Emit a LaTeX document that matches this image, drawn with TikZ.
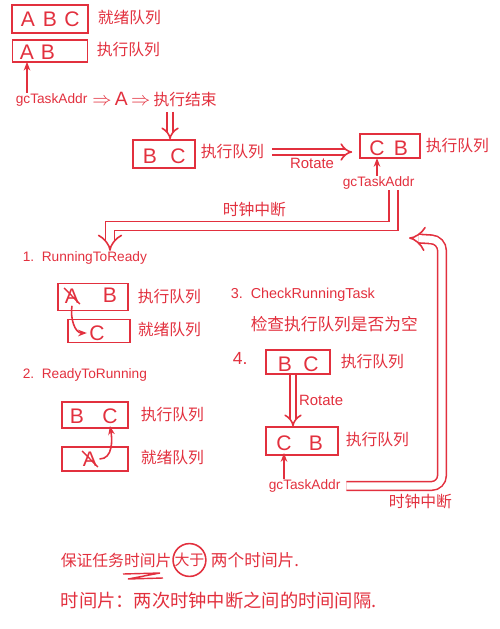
\documentclass[tikz,border=0pt]{standalone}
\usepackage{fontspec}
\setmainfont{Liberation Sans}
\newfontfamily\cjk{Noto Sans CJK SC}
\usetikzlibrary{arrows.meta, positioning}
\definecolor{penred}{RGB}{226,48,62}

\begin{document}
\begin{tikzpicture}[
    x=0.02cm, y=-0.02cm,
    color=penred, line width=0.9pt,
    queue/.style={draw, rectangle, inner sep=0pt},
    letter/.style={inner sep=1pt, font=\fontsize{12}{12}\selectfont},
    qlabel/.style={anchor=west, inner sep=0pt, font=\cjk\fontsize{9}{10}\selectfont},
    note/.style={anchor=west, inner sep=0pt, font=\fontsize{7.8}{10}\selectfont},
    dbl/.style={double, double distance=2.5pt, -{Implies}},
    loopline/.style={double, double distance=4pt, -{Implies}},
    >={Stealth[length=5pt]}
]
    \useasboundingbox (0,0) rectangle (500,629);

    % Ready and running queues at the start
    \node[queue, minimum width=1.52cm, minimum height=0.56cm] (rdy0) at (50,19) {};
    \node[letter] (a0r) at (28,19) {A};
    \node[letter] (b0r) at (50,19) {B};
    \node[letter] (c0r) at (72,19) {C};
    \node[qlabel] (lrdy0) at (97,18) {\cjk 就绪队列};

    \node[queue, minimum width=1.5cm, minimum height=0.44cm] (run0) at (50,51) {};
    \node[letter] (a0) at (27,52) {A};
    \node[letter] (b0) at (48,52) {B};
    \node[qlabel] (lrun0) at (96,50) {执行队列};

    % gcTaskAddr points at A, A finishes
    \node[note] (gc0) at (15,100) {gcTaskAddr};
    \node[anchor=west, inner sep=0pt, font=\fontsize{11}{12}\selectfont] (done) at ([xshift=2pt]gc0.east)
        {$\Rightarrow$\,A\,$\Rightarrow$\,{\cjk\fontsize{9}{10}\selectfont 执行结束}};
    \draw[->] (gc0.north -| a0) -- (a0.south);

    % Running queue after A ends, then Rotate
    \node[queue, minimum width=1.24cm, minimum height=0.56cm] (run1) at (164,154) {};
    \node[letter] (b1) at (150,156) {B};
    \node[letter] (c1) at (178,156) {C};
    \node[qlabel] (lrun1) at (200,152) {执行队列};
    \draw[dbl] ([xshift=-0.95cm, yshift=-2pt]done.south east) -- ([xshift=-0.95cm]done.south east |- run1.north);

    \node[queue, minimum width=1.2cm, minimum height=0.48cm] (run2) at (390,146) {};
    \node[letter] (c2) at (377,148) {C};
    \node[letter] (b2) at (401,148) {B};
    \node[qlabel] (lrun2) at (425,146) {执行队列};
    \draw[dbl] ([xshift=4pt]lrun1.east) -- node[below=3pt, note, anchor=north, font=\fontsize{8.5}{10}\selectfont] {Rotate} ([xshift=-4pt]lrun1.east -| run2.west);

    \node[note] (gc1) at (342,183) {gcTaskAddr};
    \draw[->] (gc1.north -| c2) -- (c2.south);

    % Clock interrupt back to step 1
    \coordinate (k1) at (110,226);
    \node[note, font=\cjk\fontsize{9}{10}\selectfont] (tick1) at (222,210) {时钟中断};
    \node[note] (s1) at (22,258) {1.~~RunningToReady};
    \draw[loopline] ([xshift=0.3cm]gc1.south) |- (k1) -- (k1 |- s1.north);

    % Step 1
    \node[queue, minimum width=1.4cm, minimum height=0.54cm] (run3) at (93,297) {};
    \node[letter] (a3) at (72,296) {A};
    \draw[line width=0.8pt] ([shift={(1pt,-1pt)}]a3.north west) -- ([shift={(-1pt,1pt)}]a3.south east);
    \node[letter] (b3) at (110,295) {B};
    \node[qlabel] (lrun3) at (137,297) {执行队列};
    \node[queue, minimum width=1.24cm, minimum height=0.46cm] (rdy3) at (99,331) {};
    \node[letter] (c3) at (97,333) {C};
    \node[qlabel] (lrdy3) at (137,330) {就绪队列};
    \draw[->] (a3.south) to[out=-100, in=180] (c3.west);

    % Step 2
    \node[note] (s2) at (22,375) {2.~~ReadyToRunning};
    \node[queue, minimum width=1.32cm, minimum height=0.52cm] (run4) at (95,415) {};
    \node[letter] (b4) at (77,416) {B};
    \node[letter] (c4) at (110,416) {C};
    \node[qlabel] (lrun4) at (140,415) {执行队列};
    \node[queue, minimum width=1.32cm, minimum height=0.48cm] (rdy4) at (95,459) {};
    \node[letter] (a4) at (90,459) {A};
    \draw[line width=0.8pt] ([shift={(1pt,-1pt)}]a4.north west) -- ([shift={(-1pt,1pt)}]a4.south east);
    \node[qlabel] (lrdy4) at (140,458) {就绪队列};
    \draw[->] (a4.east) to[out=0, in=-80] (c4.south);

    % Step 3
    \node[note, font=\fontsize{8.2}{10}\selectfont] (s3) at (230,295) {3.~~CheckRunningTask};
    \node[qlabel, font=\cjk\fontsize{9.5}{10}\selectfont] (s3txt) at (250,324) {检查执行队列是否为空};

    % Step 4
    \node[note, font=\fontsize{10}{10}\selectfont] (s4) at (232,358) {4.};
    \node[queue, minimum width=1.28cm, minimum height=0.48cm] (run5) at (298,362) {};
    \node[letter] (b5) at (285,364) {B};
    \node[letter] (c5) at (311,364) {C};
    \node[qlabel] (lrun5) at (340,362) {执行队列};
    \node[queue, minimum width=1.44cm, minimum height=0.56cm] (run6) at (302,441) {};
    \node[letter] (c6) at (284,443) {C};
    \node[letter] (b6) at (316,443) {B};
    \node[qlabel] (lrun6) at (345,440) {执行队列};
    \draw[dbl] ([xshift=-0.1cm]run5.south) -- node[right=3pt, note, font=\fontsize{8.5}{10}\selectfont] {Rotate} ([xshift=-0.1cm]run5.south |- run6.north);

    \node[note] (gc2) at (268,486) {gcTaskAddr};
    \draw[->] (gc2.north -| c6) -- (c6.south);

    % Clock interrupt from step 4 back up
    \coordinate (k2) at (409,238);
    \node[note, font=\cjk\fontsize{9}{10}\selectfont] (tick2) at (388,502) {时钟中断};
    \draw[loopline, rounded corners=6pt] ([xshift=3pt]gc2.east) -- (442,486) -- (442,240) -- (k2);

    % Notes at the bottom
    \node[qlabel, font=\cjk\fontsize{9}{10}\selectfont] (t1) at (60,560) {保证任务时间片};
    \node[circle, draw, inner sep=0pt, font=\cjk\fontsize{8.5}{10}\selectfont, right=0pt of t1] (t2) {大于};
    \node[qlabel, font=\cjk\fontsize{9.5}{10}\selectfont, right=2pt of t2] (t3) {两个时间片.};
    \draw[line width=0.8pt] (123,574) -- (160,573) -- (128,579) -- (163,578);
    \node[qlabel, font=\cjk\fontsize{10.4}{11}\selectfont] (t4) at (60,601) {时间片：两次时钟中断之间的时间间隔.};
\end{tikzpicture}
\end{document}
